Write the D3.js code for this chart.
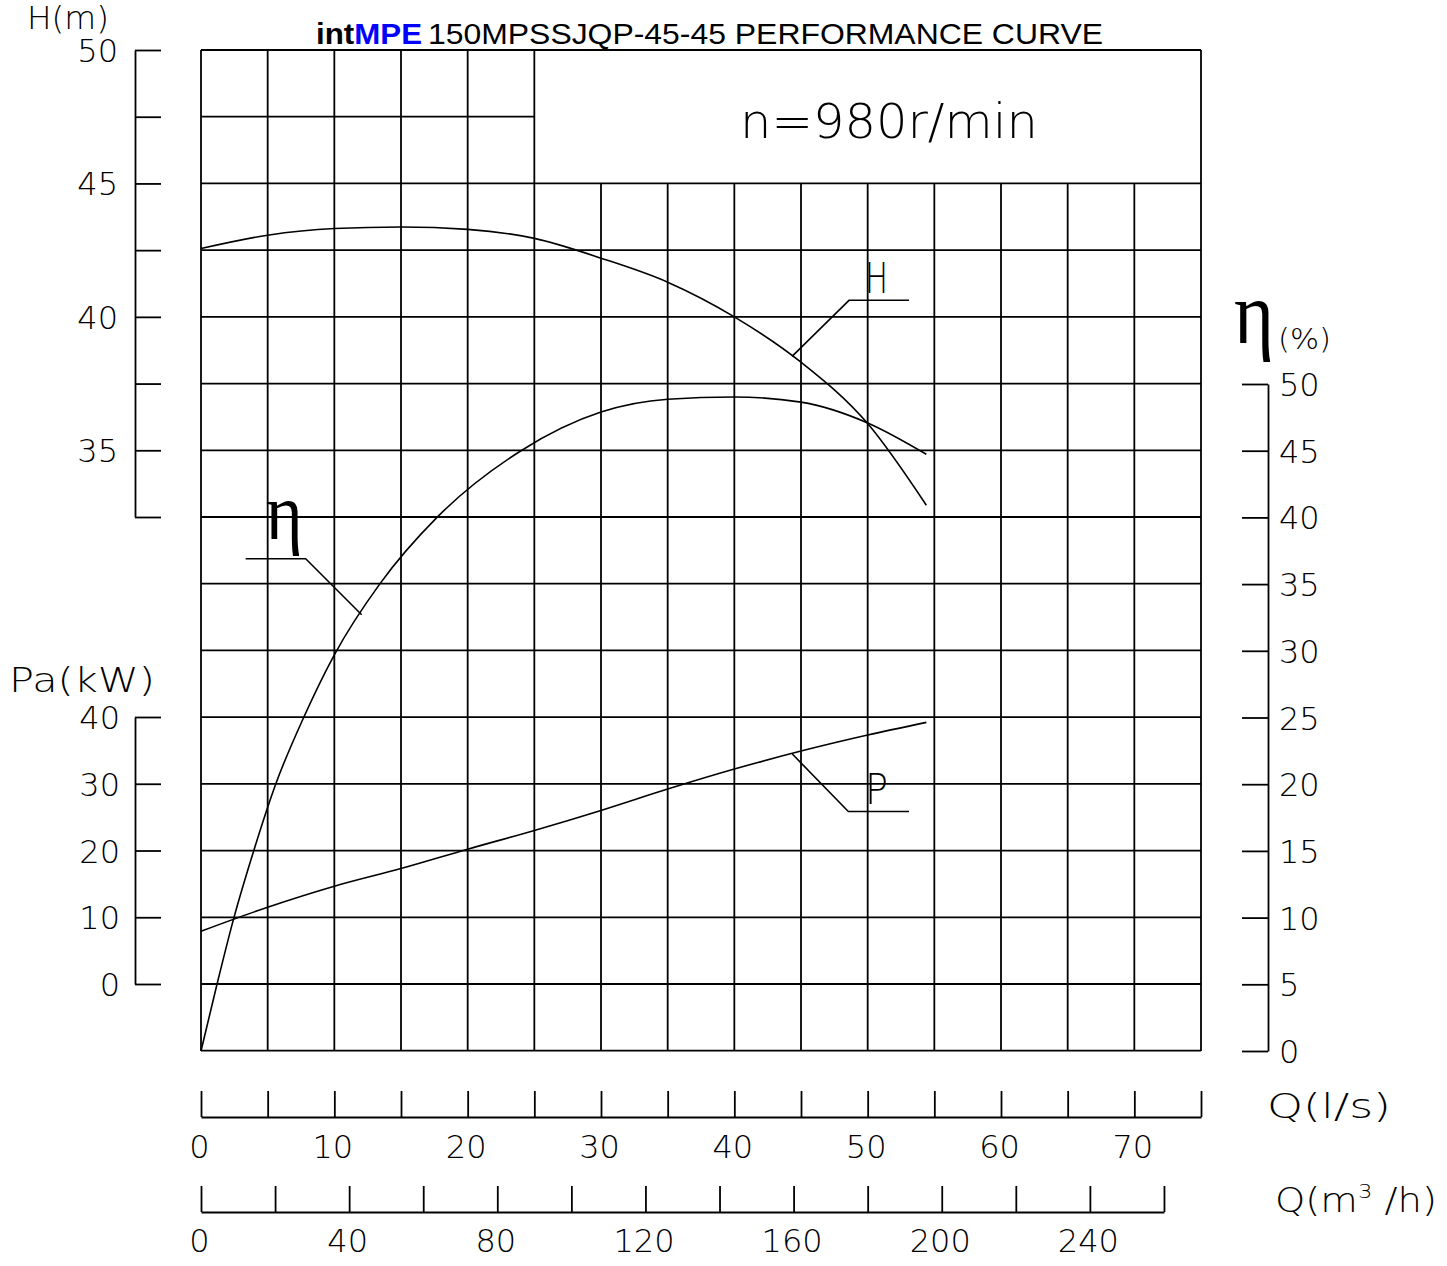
<!DOCTYPE html>
<html><head><meta charset="utf-8">
<script src="https://cdn.jsdelivr.net/npm/d3@7"></script>
<style>
body{margin:0;background:#fff}
svg{display:block}
</style></head><body>
<svg id="c" width="1447" height="1266"></svg>
<script>
// ---------- data ----------
const headQ = [0, 5, 10, 15, 20, 25, 30, 35, 40, 45, 50, 54.4];
const headH = [42.56, 43.06, 43.31, 43.37, 43.28, 42.94, 42.2, 41.3, 40.0, 38.3, 36.0, 32.94];

const effQ = [0, 1.2, 2.47, 3.95, 5.6, 7.7, 10, 13.4, 17.7, 24, 30, 35, 40, 45, 50, 54.4];
const effE = [0, 5, 10, 15, 20, 25, 29.7, 35, 40, 45, 47.9, 48.86, 49.03, 48.64, 47.08, 44.73];

const powerQ = [0, 5, 10, 15, 20, 25, 30, 35, 40, 45, 50, 54.4];
const powerP = [7.9, 11.5, 14.65, 17.3, 20.2, 23.0, 26.0, 29.2, 32.2, 34.9, 37.3, 39.2];

const qLsTicks = d3.range(0, 76, 5);
const qM3Ticks = d3.range(0, 261, 20);
const headTicks = d3.range(32.5, 50.01, 2.5);
const powerTicks = [0, 10, 20, 30, 40];
const effTicks = d3.range(0, 50.01, 5);

const titleBold = "int", titleBrand = "MPE", titleRest = "150MPSSJQP-45-45 PERFORMANCE CURVE";
const speedLabel = "n=980r/min";

// ---------- scales ----------
const svg = d3.select("#c");
const x = d3.scaleLinear().domain([0, 75]).range([201, 1201]);
const xm = d3.scaleLinear().domain([0, 260]).range([201, x(260 / 3.6)]);
const yH = d3.scaleLinear().domain([32.5, 50]).range([517, 50]);
const yE = d3.scaleLinear().domain([0, 50]).range([1051, 384]);
const yP = d3.scaleLinear().domain([0, 40]).range([984, 717]);

const CAD = "'DejaVu Sans', sans-serif";
const SW = 1.8;
const TICK_FS = 32;

// ---------- grid ----------
const grid = svg.append("g").attr("stroke", "#000").attr("stroke-width", SW);
const gridQ = d3.range(0, 75.01, 5);
grid.selectAll("line.v").data(gridQ).join("line")
  .attr("x1", d => x(d)).attr("x2", d => x(d))
  .attr("y1", d => (d <= 25 || d === 75) ? yH(50) : yH(45))
  .attr("y2", yE(0));
const gridH = d3.range(12.5, 50.01, 2.5);
grid.selectAll("line.h").data(gridH).join("line")
  .attr("x1", x(0))
  .attr("x2", d => (d > 45 && d < 50) ? x(25) : x(75))
  .attr("y1", d => yH(d)).attr("y2", d => yH(d));

// ---------- axes ----------
function styleAxis(g) {
  g.attr("font-family", CAD).attr("font-size", TICK_FS).attr("font-weight", 200);
  g.selectAll("path,line").attr("stroke", "#000").attr("stroke-width", SW);
  g.selectAll("text").attr("fill", "#000");
}
// H axis
const gH = svg.append("g").attr("transform", "translate(135,0)")
  .call(d3.axisRight(yH).tickValues(headTicks).tickSize(26).tickSizeOuter(0)
    .tickFormat(d => d % 5 === 0 ? d3.format("d")(d) : ""));
styleAxis(gH);
gH.selectAll("text").attr("x", -17).attr("text-anchor", "end").attr("dy", "0.36em");

// P axis
const gP = svg.append("g").attr("transform", "translate(135,0)")
  .call(d3.axisRight(yP).tickValues(powerTicks).tickSize(26).tickSizeOuter(0).tickFormat(d3.format("d")));
styleAxis(gP);
gP.selectAll("text").attr("x", -15).attr("text-anchor", "end").attr("dy", "0.36em");

// efficiency axis
const gE = svg.append("g").attr("transform", "translate(1268,0)")
  .call(d3.axisLeft(yE).tickValues(effTicks).tickSize(26).tickSizeOuter(0).tickFormat(d3.format("d")));
styleAxis(gE);
gE.selectAll("text").attr("x", 11).attr("text-anchor", "start").attr("dy", "0.36em");

// Q l/s axis
const gQ = svg.append("g").attr("transform", "translate(0,1117)")
  .call(d3.axisTop(x).tickValues(qLsTicks).tickSize(26).tickSizeOuter(0)
    .tickFormat(d => d % 10 === 0 ? d3.format("d")(d) : ""));
styleAxis(gQ);
gQ.selectAll("text").attr("y", 29).attr("dy", "0.36em").attr("text-anchor", "middle").attr("dx", -2);

// Q m3/h axis
const gM = svg.append("g").attr("transform", "translate(0,1212)")
  .call(d3.axisTop(xm).tickValues(qM3Ticks).tickSize(26).tickSizeOuter(0)
    .tickFormat(d => d % 40 === 0 ? d3.format("d")(d) : ""));
styleAxis(gM);
gM.selectAll("text").attr("y", 28).attr("dy", "0.36em").attr("text-anchor", "middle").attr("dx", -2);

// ---------- curves ----------
const lineH = d3.line().x((d, i) => x(headQ[i])).y(d => yH(d)).curve(d3.curveMonotoneX);
const lineE = d3.line().x((d, i) => x(effQ[i])).y(d => yE(d)).curve(d3.curveMonotoneX);
const lineP = d3.line().x((d, i) => x(powerQ[i])).y(d => yP(d)).curve(d3.curveMonotoneX);
const curves = svg.append("g").attr("fill", "none").attr("stroke", "#000").attr("stroke-width", 1.6);
curves.append("path").attr("d", lineH(headH));
curves.append("path").attr("d", lineE(effE));
curves.append("path").attr("d", lineP(powerP));

// ---------- leaders & curve labels ----------
const lead = svg.append("g").attr("fill", "none").attr("stroke", "#000").attr("stroke-width", 1.6);
const leaderLine = d3.line();
lead.append("path").attr("d", leaderLine([[x(44.33), yH(38.52)], [x(48.6), yH(40.62)], [x(53.1), yH(40.62)]]));
lead.append("path").attr("d", leaderLine([[x(12.05), yE(32.7)], [x(7.85), yE(36.9)], [x(3.35), yE(36.9)]]));
lead.append("path").attr("d", leaderLine([[x(44.35), yP(34.45)], [x(48.55), yP(25.85)], [x(53.1), yP(25.85)]]));

svg.append("text").attr("x", x(49.8)).attr("y", yH(40.9)).attr("font-family", CAD).attr("font-weight", 200)
  .attr("font-size", 42).attr("textLength", 23).attr("lengthAdjust", "spacingAndGlyphs").text("H");
svg.append("text").attr("x", x(49.8)).attr("y", yP(27)).attr("font-family", CAD).attr("font-weight", 200)
  .attr("font-size", 42).attr("textLength", 23).attr("lengthAdjust", "spacingAndGlyphs").text("P");
svg.append("text").attr("x", x(4.85)).attr("y", yE(38.4)).attr("font-family", "'Liberation Serif', serif")
  .attr("font-size", 80).attr("textLength", 37).attr("lengthAdjust", "spacingAndGlyphs").text("η");

// ---------- titles ----------
const t1 = svg.append("text").attr("x", 316).attr("y", 44).attr("font-family", "'Liberation Sans', Arial, sans-serif")
  .attr("font-size", 29).attr("font-weight", "bold").attr("textLength", 106).attr("lengthAdjust", "spacingAndGlyphs");
t1.append("tspan").attr("fill", "#000").text(titleBold);
t1.append("tspan").attr("fill", "#0000ff").text(titleBrand);
svg.append("text").attr("x", 428).attr("y", 44).attr("font-family", "'Liberation Sans', Arial, sans-serif")
  .attr("font-size", 29).attr("textLength", 675).attr("lengthAdjust", "spacingAndGlyphs").text(titleRest);

svg.append("text").attr("x", 740).attr("y", 138).attr("font-family", CAD).attr("font-weight", 200)
  .attr("font-size", 48).attr("textLength", 298).attr("lengthAdjust", "spacingAndGlyphs").text(speedLabel);

function cadText(tx, ty, size, len, str) {
  return svg.append("text").attr("x", tx).attr("y", ty).attr("font-family", CAD).attr("font-weight", 200)
    .attr("font-size", size).attr("textLength", len).attr("lengthAdjust", "spacingAndGlyphs").text(str);
}
cadText(27, 29, 32, 82, "H(m)");
cadText(9, 692, 33, 146, "Pa(kW)");
cadText(1267, 1118, 34, 124, "Q(l/s)");
const qm = svg.append("text").attr("x", 1275).attr("y", 1212).attr("font-family", CAD).attr("font-weight", 200)
  .attr("font-size", 34).attr("textLength", 162).attr("lengthAdjust", "spacingAndGlyphs");
qm.append("tspan").text("Q(m");
qm.append("tspan").attr("font-size", 20).attr("dy", -14).text("3");
qm.append("tspan").attr("dy", 14).text(" /h)");

svg.append("text").attr("x", 1234).attr("y", 343).attr("font-family", "'Liberation Serif', serif")
  .attr("font-size", 88).attr("textLength", 40).attr("lengthAdjust", "spacingAndGlyphs").text("η");
cadText(1278, 349, 29, 53, "(%)");
</script>
</body></html>
